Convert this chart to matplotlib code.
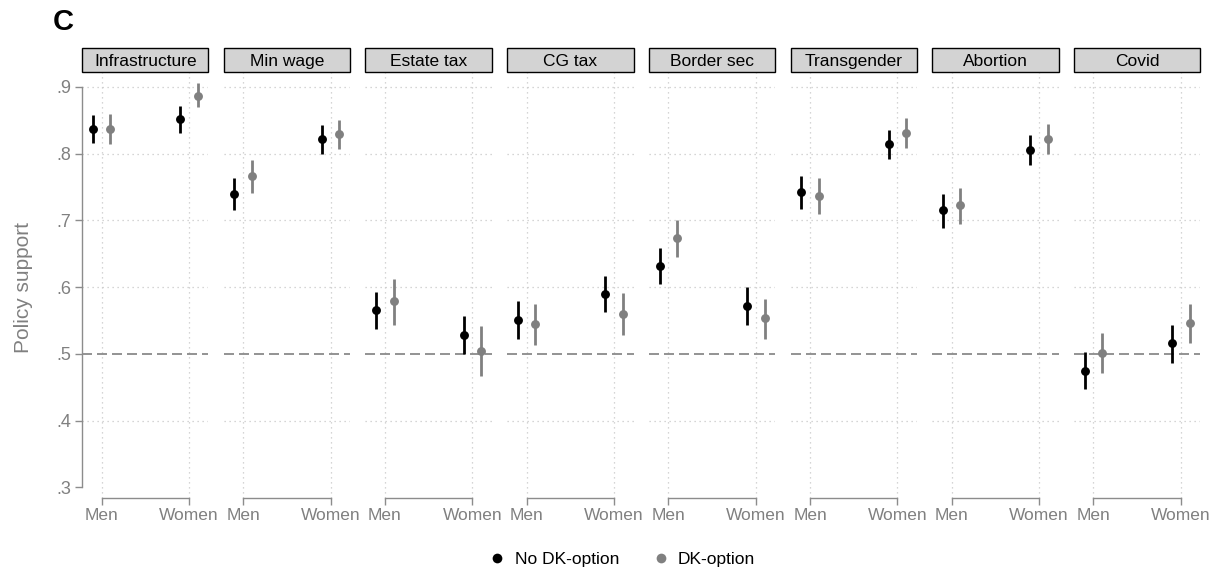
import matplotlib
matplotlib.use("Agg")
import matplotlib.pyplot as plt
from matplotlib.patches import Rectangle
from matplotlib.lines import Line2D
import numpy as np

plt.rcParams["font.family"] = ["Liberation Sans", "DejaVu Sans"]

TOPICS = ["Infrastructure", "Min wage", "Estate tax", "CG tax",
          "Border sec", "Transgender", "Abortion", "Covid"]
GROUPS = ["Men", "Women"]

# point estimates, per topic: [Men, Women]
nodk_est = [[0.837, 0.851], [0.740, 0.821], [0.565, 0.528], [0.551, 0.589],
            [0.632, 0.572], [0.742, 0.814], [0.715, 0.806], [0.475, 0.516]]
dk_est = [[0.837, 0.886], [0.766, 0.829], [0.579, 0.505], [0.545, 0.560],
          [0.674, 0.553], [0.737, 0.831], [0.723, 0.822], [0.502, 0.546]]
# 95% CI lower / upper bounds
nodk_lo = [[0.816, 0.831], [0.715, 0.799], [0.537, 0.500], [0.523, 0.562],
           [0.605, 0.544], [0.717, 0.792], [0.689, 0.783], [0.447, 0.487]]
nodk_hi = [[0.858, 0.871], [0.764, 0.843], [0.592, 0.556], [0.579, 0.617],
           [0.659, 0.600], [0.766, 0.835], [0.740, 0.828], [0.503, 0.543]]
dk_lo = [[0.814, 0.869], [0.741, 0.807], [0.544, 0.467], [0.513, 0.528],
         [0.645, 0.523], [0.709, 0.809], [0.695, 0.800], [0.471, 0.516]]
dk_hi = [[0.859, 0.905], [0.791, 0.850], [0.612, 0.542], [0.575, 0.591],
         [0.700, 0.582], [0.764, 0.853], [0.749, 0.844], [0.532, 0.575]]

YTICKS = [0.3, 0.4, 0.5, 0.6, 0.7, 0.8, 0.9]
YTICKLABELS = [".3", ".4", ".5", ".6", ".7", ".8", ".9"]

BLACK = "#000000"
GREY = "#808080"
AXGREY = "#8c8c8c"
GRIDC = "#c8c8c8"
W, H = 1222, 575

fig = plt.figure(figsize=(W / 100, H / 100), dpi=100)

left0, pw, gap = 82, 126.5, 15.2
top_px, bot_px = 71.7, 498.3
off = 0.1
x = np.arange(len(GROUPS))

for i, topic in enumerate(TOPICS):
    l = left0 + i * (pw + gap)
    ax = fig.add_axes([l / W, 1 - bot_px / H, pw / W, (bot_px - top_px) / H])
    ax.set_xlim(-0.223, 1.223)
    ax.set_ylim(0.2838, 0.9225)

    for y in YTICKS[1:]:
        if abs(y - 0.5) < 1e-9:
            continue
        ax.axhline(y, color=GRIDC, lw=0.9, ls=(0, (1, 3)), zorder=0)
    for xv in x:
        ax.axvline(xv, color=GRIDC, lw=0.9, ls=(0, (1, 3)), zorder=0)
    ax.axhline(0.5, color=GREY, lw=1.2, ls=(0, (6, 3)), zorder=1)

    for est, lo, hi, col, dx in [(nodk_est, nodk_lo, nodk_hi, BLACK, -off),
                                 (dk_est, dk_lo, dk_hi, GREY, off)]:
        e = np.array(est[i])
        ax.vlines(x + dx, lo[i], hi[i], color=col, lw=2.0, zorder=3)
        ax.plot(x + dx, e, "o", color=col, ms=6.4, mec="none", zorder=4)

    for s in ["top", "right"]:
        ax.spines[s].set_visible(False)
    ax.spines["bottom"].set_bounds(0, 1)
    ax.spines["bottom"].set_color(AXGREY)
    ax.spines["bottom"].set_linewidth(1.0)
    ax.set_xticks(x)
    ax.set_xticklabels(GROUPS)
    ax.tick_params(axis="x", colors=AXGREY, labelcolor=GREY, labelsize=12.5,
                   length=5, width=1.0, pad=2)

    if i == 0:
        ax.spines["left"].set_bounds(0.3, 0.9)
        ax.spines["left"].set_color(AXGREY)
        ax.spines["left"].set_linewidth(1.0)
        ax.set_yticks(YTICKS)
        ax.set_yticklabels(YTICKLABELS)
        ax.tick_params(axis="y", colors=AXGREY, labelcolor=GREY, labelsize=13,
                       length=5, width=1.0, pad=3)
        ax.set_ylabel("Policy support", color=GREY, fontsize=15)
        ax.yaxis.set_label_coords(-0.388, 0.495)
    else:
        ax.spines["left"].set_visible(False)
        ax.set_yticks([])

    # strip header
    sh = 23.4 / (bot_px - top_px)
    ax.add_patch(Rectangle((0, 1), 1, sh, transform=ax.transAxes,
                           facecolor="#d3d3d3", edgecolor="black", lw=1.0,
                           clip_on=False, zorder=5))
    ax.text(0.5, 1 + sh / 2, topic, transform=ax.transAxes, ha="center",
            va="center_baseline", fontsize=12.5, color="black", zorder=6)

fig.text(53 / W, 1 - 22 / H, "C", fontsize=21, fontweight="bold", va="center")

handles = [Line2D([], [], ls="none", marker="o", color=BLACK, ms=7, mec="none"),
           Line2D([], [], ls="none", marker="o", color=GREY, ms=7, mec="none")]
fig.legend(handles, ["No DK-option", "DK-option"], loc="center",
           bbox_to_anchor=(622 / W, 1 - 559 / H), ncol=2, frameon=False,
           fontsize=12.5, handletextpad=0.5, columnspacing=1.9, handlelength=1.0)

fig.savefig("out.png", dpi=100)
